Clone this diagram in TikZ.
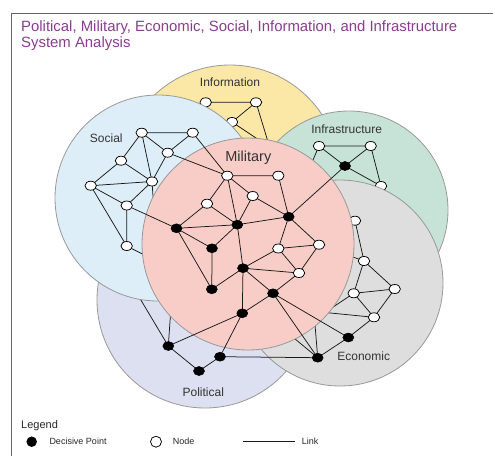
\documentclass[tikz,border=0pt]{standalone}
\usepackage{fontspec}
\setmainfont{Liberation Sans}
\usetikzlibrary{shapes.geometric}
\definecolor{titlecol}{HTML}{8A3D8F}
\definecolor{cinfo}{HTML}{FBE8A6}
\definecolor{cinfra}{HTML}{C7E3D7}
\definecolor{cpol}{HTML}{DCE0F1}
\definecolor{csoc}{HTML}{DDEEF9}
\definecolor{ceco}{HTML}{DEDEDE}
\definecolor{cmil}{HTML}{F8CDC7}
\definecolor{ring}{HTML}{999999}
\definecolor{framecol}{HTML}{666666}
\begin{document}
\begin{tikzpicture}[x=1pt,y=-1pt,
  area/.style={circle, draw=ring, line width=0.8pt, inner sep=0pt, minimum size=#1},
  wn/.style={ellipse, draw=black, fill=white, line width=0.75pt, minimum width=11.5pt, minimum height=9pt, inner sep=0pt},
  dp/.style={ellipse, draw=black, fill=black, line width=0.5pt, minimum width=11pt, minimum height=9pt, inner sep=0pt},
  lk/.style={draw=black!90, line width=0.75pt},
  lbl/.style={font=\fontsize{12}{14}\selectfont, text=black!80, inner sep=0pt},
  lgtext/.style={font=\fontsize{9}{11}\selectfont, text=black!85, inner sep=0pt, anchor=west}]
\useasboundingbox (0,0) rectangle (493,456);
% frame
\coordinate (fa) at (11,456); \coordinate (fb) at (11,13); \coordinate (fc) at (493,13);
\draw[framecol, line width=1pt] (fa) -- (fb) -- (fc);
\node[anchor=base west, text=titlecol, font=\fontsize{14.9}{16}\selectfont, inner sep=0pt] (t1) at (21,31.5) {Political, Military, Economic, Social, Information, and Infrastructure};
\node[anchor=base west, text=titlecol, font=\fontsize{14.9}{16}\selectfont, inner sep=0pt] (t2) at (21,47) {System Analysis};

% coordinates
\coordinate (i1) at (205.7,102.3); \coordinate (i2) at (256,102.3); \coordinate (i3) at (232,122); \coordinate (ih) at (280,154);
\coordinate (f1) at (319,146); \coordinate (f2) at (370.7,146); \coordinate (f3) at (345,166); \coordinate (f4) at (381,186);
\coordinate (p1) at (168.3,346); \coordinate (p2) at (199,371); \coordinate (p3) at (220,356.7); \coordinate (p4) at (242.3,313.3); \coordinate (ph) at (123,270);
\coordinate (s1) at (141.7,132.7); \coordinate (s2) at (192.7,132.7); \coordinate (s3) at (167.7,152.7); \coordinate (s4) at (121,160.7);
\coordinate (s5) at (90.7,185.7); \coordinate (s6) at (152,181.5); \coordinate (s7) at (126.7,205.5); \coordinate (s8) at (126.7,246);
\coordinate (sh) at (156,240);
\coordinate (e1) at (355,220.7); \coordinate (e2) at (364,261); \coordinate (e3) at (353.7,293.3); \coordinate (e4) at (394.7,289);
\coordinate (e5) at (374,317.3); \coordinate (e6) at (348.3,337.5); \coordinate (e7) at (317.7,357.7);
\coordinate (eh1) at (300,329); \coordinate (eh2) at (300,310); \coordinate (eh3) at (313,300); \coordinate (eh4) at (260,310);
\coordinate (m1) at (227.3,175.7); \coordinate (m2) at (278.3,175.7); \coordinate (m3) at (252.7,196); \coordinate (m4) at (207,203.7);
\coordinate (m5) at (288.7,216.7); \coordinate (m6) at (237.3,224.7); \coordinate (m7) at (176.5,228.3); \coordinate (m8) at (212,248.3);
\coordinate (m9) at (278.3,248.5); \coordinate (m10) at (319,244.7); \coordinate (m11) at (243,268.2); \coordinate (m12) at (299,273);
\coordinate (m13) at (211.8,289.3); \coordinate (m14) at (273,293.3);

% Information layer
\node[area=220pt, fill=cinfo] (cI) at (230,175) {};
\draw[lk] (i1) -- (i2) (i2) -- (i3) (i2) -- (m2) (i3) -- (ih);
\node[wn] (I1) at (i1) {}; \node[wn] (I2) at (i2) {}; \node[wn] (I3) at (i3) {};
\node[lbl] (lI) at (230,82.7) {Information};

% Infrastructure layer
\node[area=198pt, fill=cinfra] (cF) at (349,210) {};
\draw[lk] (f1) -- (f2) (f1) -- (f3) (f2) -- (f3) (f2) -- (f4) (f3) -- (f4) (f1) -- (m5);
\node[wn] (F1) at (f1) {}; \node[wn] (F2) at (f2) {}; \node[wn] (F4) at (f4) {}; \node[dp] (F3) at (f3) {};
\node[lbl] (lF) at (346.7,129) {Infrastructure};

% Political layer
\node[area=216pt, fill=cpol] (cP) at (205,300) {};
\draw[lk] (p1) -- (ph) (p1) -- (m7);
\node[lbl] (lP) at (203.3,392) {Political};

% Social layer
\node[area=206pt, fill=csoc] (cS) at (158,198) {};
\draw[lk] (s1) -- (s2) (s1) -- (s4) (s1) -- (s6) (s1) -- (s3) (s2) -- (s3) (s3) -- (s6)
  (s4) -- (s5) (s4) -- (s6) (s5) -- (s6) (s5) -- (s7) (s5) -- (s8) (s6) -- (s7) (s7) -- (s8)
  (s8) -- (m13) (s6) -- (sh);
\foreach \n in {1,...,8} {\node[wn] (S\n) at (s\n) {};}
\node[lbl] (lS) at (106.3,138.3) {Social};

% Economic layer
\node[area=206pt, fill=ceco] (cE) at (340,283) {};
\draw[lk] (e1) -- (e2) (e2) -- (e4) (e2) -- (e3) (e3) -- (e4) (e3) -- (e5) (e4) -- (e5) (e5) -- (e6) (e6) -- (e7)
  (e1) -- (m10) (e2) -- (m10) (e3) -- (eh1) (e5) -- (eh2) (e7) -- (eh3) (e7) -- (eh4);
\foreach \n in {1,...,5} {\node[wn] (E\n) at (e\n) {};}
\node[lbl] (lE) at (363.7,356.7) {Economic};

% Military layer
\node[area=212pt, fill=cmil] (cM) at (248,244) {};
\node[lbl, font=\fontsize{14.5}{16}\selectfont] (lM) at (248.3,157.3) {Military};
\draw[lk] (m1) -- (m2) (m1) -- (m3) (m2) -- (m5) (m3) -- (m5) (m3) -- (m6) (m1) -- (m6) (m1) -- (m4)
  (m4) -- (m7) (m4) -- (m6) (m7) -- (m6) (m6) -- (m5) (m7) -- (m8) (m7) -- (m13) (m8) -- (m13)
  (m6) -- (m8) (m6) -- (m11) (m13) -- (m11) (m11) -- (m9) (m9) -- (m5) (m9) -- (m10) (m10) -- (m5)
  (m9) -- (m12) (m10) -- (m12) (m11) -- (m12) (m11) -- (m14) (m12) -- (m14);
% cross links
\draw[lk] (m5) -- (F3) (S2) -- (m1) (S3) -- (m1) (S7) -- (m7)
  (m11) -- (p4) (m14) -- (p4) (p4) -- (p1) (p4) -- (p3) (p3) -- (p2) (p2) -- (p1)
  (p3) -- (e7) (m14) -- (e7) (m14) -- (e6);
\foreach \n in {1,2,3,4,9,10,12} {\node[wn] (M\n) at (m\n) {};}
\foreach \n in {5,6,7,8,11,13,14} {\node[dp] (M\n) at (m\n) {};}
\foreach \n in {1,2,3,4} {\node[dp] (P\n) at (p\n) {};}
\node[dp] (E6) at (e6) {}; \node[dp] (E7) at (e7) {};

% legend
\node[anchor=base west, font=\fontsize{11}{13}\selectfont, text=black!85, inner sep=0pt] (lg) at (21,428) {Legend};
\node[circle, fill=black, minimum size=10.5pt, inner sep=0pt] (lgd) at (31.7,441.7) {};
\node[lgtext] (lgdt) at (49.3,441.7) {Decisive Point};
\node[circle, draw=black, fill=white, line width=0.75pt, minimum size=11pt, inner sep=0pt] (lgn) at (156,441.7) {};
\node[lgtext] (lgnt) at (172.7,441.7) {Node};
\coordinate (lka) at (243.3,441.7); \coordinate (lkb) at (295,441.7);
\draw[lk] (lka) -- (lkb);
\node[lgtext] (lgl) at (301.7,441.7) {Link};
\end{tikzpicture}
\end{document}
